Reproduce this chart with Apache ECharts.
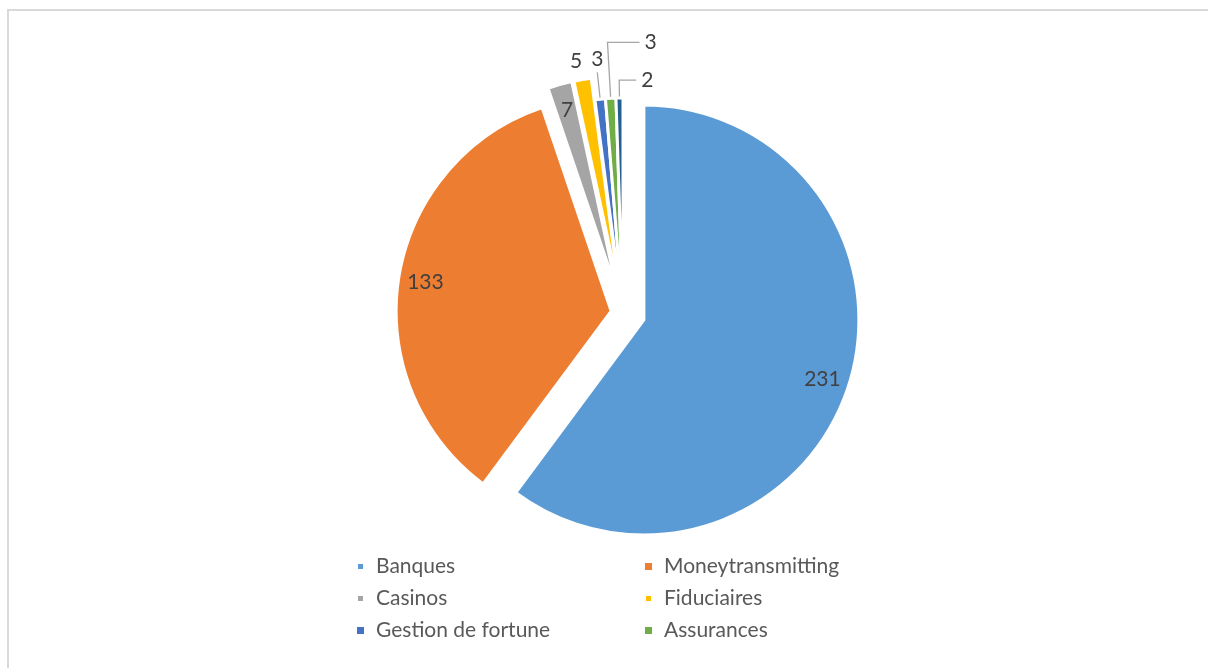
<!DOCTYPE html>
<html>
<head>
<meta charset="utf-8">
<title>Répartition par secteur</title>
<script src="https://cdn.jsdelivr.net/npm/echarts@6/dist/echarts.min.js"></script>
<style>
  html, body { margin: 0; padding: 0; background: #ffffff; }
  #chart { width: 1208px; height: 668px; }
</style>
</head>
<body>
<div id="chart"></div>
<script>
// Sectors and counts, in clockwise order from 12 o'clock
const CATEGORIES = ['Banques', 'Moneytransmitting', 'Casinos', 'Fiduciaires', 'Gestion de fortune', 'Assurances', 'Autres'];
const VALUES = [231, 133, 7, 5, 3, 3, 2];

// Legend entries, laid out in two columns
const LEGEND_LEFT = ['Banques', 'Casinos', 'Gestion de fortune'];
const LEGEND_RIGHT = ['Moneytransmitting', 'Fiduciaires', 'Assurances'];

// Office palette
const COLORS = ['#5B9BD5', '#ED7D31', '#A5A5A5', '#FFC000', '#4472C4', '#70AD47', '#255E91'];

// Slices pulled out of the pie by the same distance share one series
const GROUPS = [
  { offset: 22, members: ['Banques', 'Casinos', 'Fiduciaires'] },
  { offset: 12, members: ['Moneytransmitting'] },
  { offset: 0, members: ['Gestion de fortune', 'Assurances', 'Autres'] }
];

// Values printed inside their slice
const INSIDE_LABELS = ['Banques', 'Moneytransmitting', 'Casinos'];
// Values printed outside, with a leader line
const OUTSIDE_LABELS = {
  'Fiduciaires': { mode: 'above', len: 8, len2: 0, hideLine: true },
  'Gestion de fortune': { mode: 'above', len: 27, len2: 0 },
  'Assurances': { mode: 'right', len: 56, len2: 32 },
  'Autres': { mode: 'right', len: 18, len2: 17 }
};

const CENTER = [623, 313];
const RADIUS = 215;
const FONT = 'Lato, "Open Sans", sans-serif';
const LABEL_COLOR = '#404040';
const LEGEND_COLOR = '#595959';
const HIDDEN = 'rgba(0,0,0,0)';

function labelLayout(p) {
  const st = OUTSIDE_LABELS[CATEGORIES[p.dataIndex]];
  const pts = p.labelLinePoints;
  if (!st || !pts) return {};
  const end = pts[1];
  if (st.mode === 'above') {
    return {
      x: end[0], y: end[1] - 3, align: 'center', verticalAlign: 'bottom',
      labelLinePoints: [pts[0], end, end]
    };
  }
  // leader turns to the right of the pie top
  const x3 = end[0] + Math.abs(end[0] - pts[2][0]);
  return {
    x: x3 + 5, y: end[1], align: 'left', verticalAlign: 'middle',
    labelLinePoints: [pts[0], end, [x3, end[1]]]
  };
}

function sliceSeries(group) {
  return {
    type: 'pie',
    center: CENTER,
    radius: [0, RADIUS],
    startAngle: 90,
    clockwise: true,
    selectedMode: 'multiple',
    selectedOffset: group.offset,
    avoidLabelOverlap: false,
    silent: true,
    emphasis: { disabled: true },
    label: { position: 'outside', formatter: '{c}', fontFamily: FONT, fontSize: 21, color: LABEL_COLOR },
    labelLayout: labelLayout,
    data: CATEGORIES.map(function (name, i) {
      const inGroup = group.members.indexOf(name) >= 0;
      const st = OUTSIDE_LABELS[name];
      return {
        name: name,
        value: VALUES[i],
        selected: inGroup && group.offset > 0,
        itemStyle: inGroup
          ? { color: COLORS[i], borderColor: '#ffffff', borderWidth: 3 }
          : { color: HIDDEN, borderWidth: 0 },
        label: { show: inGroup && !!st },
        labelLine: (inGroup && st)
          ? { show: true, length: st.len, length2: st.len2,
              lineStyle: { color: '#A6A6A6', width: 1.3, opacity: st.hideLine ? 0 : 1 } }
          : { show: false }
      };
    })
  };
}

// Transparent ring carrying the inside labels near the rim
function labelRingSeries(group) {
  return {
    type: 'pie',
    center: CENTER,
    radius: [RADIUS - 60, RADIUS],
    startAngle: 90,
    clockwise: true,
    selectedMode: 'multiple',
    selectedOffset: group.offset,
    avoidLabelOverlap: false,
    silent: true,
    emphasis: { disabled: true },
    label: { position: 'inside', formatter: '{c}', fontFamily: FONT, fontSize: 21, color: LABEL_COLOR },
    labelLine: { show: false },
    data: CATEGORIES.map(function (name, i) {
      const inGroup = group.members.indexOf(name) >= 0;
      return {
        name: name,
        value: VALUES[i],
        selected: inGroup && group.offset > 0,
        itemStyle: { color: HIDDEN, borderWidth: 0 },
        label: { show: inGroup && INSIDE_LABELS.indexOf(name) >= 0 }
      };
    })
  };
}

function legendColumn(names, left) {
  return {
    orient: 'vertical',
    left: left,
    top: 551,
    itemWidth: 7,
    itemHeight: 7,
    itemGap: 11,
    icon: 'rect',
    selectedMode: false,
    textStyle: { fontFamily: FONT, fontSize: 21, color: LEGEND_COLOR, lineHeight: 21, padding: [0, 0, 0, 7] },
    data: names.map(function (n) {
      return { name: n, itemStyle: { color: COLORS[CATEGORIES.indexOf(n)] } };
    })
  };
}

const series = [];
GROUPS.forEach(function (g) { series.push(sliceSeries(g)); });
GROUPS.forEach(function (g) {
  if (g.members.some(function (n) { return INSIDE_LABELS.indexOf(n) >= 0; })) series.push(labelRingSeries(g));
});

const chart = echarts.init(document.getElementById('chart'), null, { renderer: 'canvas' });
chart.setOption({
  animation: false,
  backgroundColor: '#ffffff',
  graphic: [{
    type: 'rect', silent: true, z: -10,
    shape: { x: 8, y: 10, width: 1400, height: 900 },
    style: { fill: 'none', stroke: '#D9D9D9', lineWidth: 2 }
  }],
  legend: [legendColumn(LEGEND_LEFT, 351), legendColumn(LEGEND_RIGHT, 639)],
  series: series
});
</script>
</body>
</html>
